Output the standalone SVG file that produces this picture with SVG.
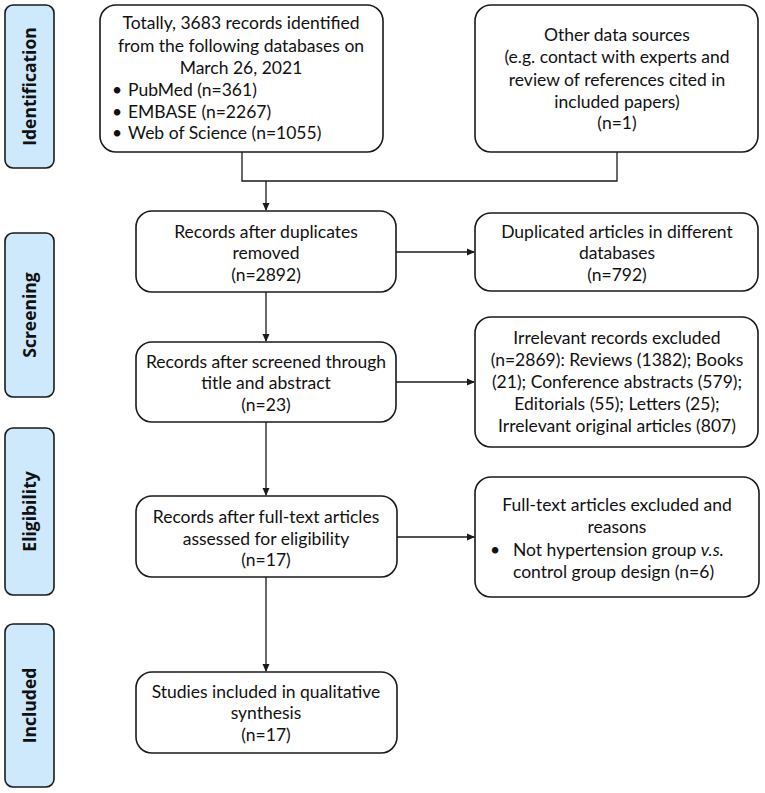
<svg xmlns="http://www.w3.org/2000/svg" width="765" height="793" viewBox="0 0 765 793">
<style>
.lab{fill:#cde9fb;stroke:#1a1a1a;stroke-width:1.6}
.box{fill:#fff;stroke:#1a1a1a;stroke-width:1.6}
.lt{font-family:"Open Sans","Liberation Sans",sans-serif;font-weight:bold;font-size:17.5px;fill:#111;text-anchor:middle}
.t{font-family:Lato,"Liberation Sans",sans-serif;font-size:17.5px;fill:#111;text-anchor:middle}
.tl{font-family:Lato,"Liberation Sans",sans-serif;font-size:17.5px;fill:#111}
.c{fill:none;stroke:#1a1a1a;stroke-width:1.3}
</style>
<defs>
<marker id="ah" markerWidth="8" markerHeight="8" refX="7" refY="4" orient="auto" markerUnits="userSpaceOnUse">
<path d="M0,0.5 L8,4 L0,7.5 z" fill="#1a1a1a"/>
</marker>
</defs>
<rect width="765" height="793" fill="#fff"/>
<g id="lab-identification"><rect class="lab" x="5" y="5" width="49" height="163" rx="8"/><text class="lt" transform="translate(35.5,86.5) rotate(-90)">Identification</text></g>
<g id="lab-screening"><rect class="lab" x="5" y="233" width="49" height="164" rx="8"/><text class="lt" transform="translate(35.5,315) rotate(-90)">Screening</text></g>
<g id="lab-eligibility"><rect class="lab" x="5" y="428" width="49" height="167" rx="8"/><text class="lt" transform="translate(35.5,511.5) rotate(-90)">Eligibility</text></g>
<g id="lab-included"><rect class="lab" x="5" y="624" width="49" height="163" rx="8"/><text class="lt" transform="translate(35.5,705.5) rotate(-90)">Included</text></g>
<g id="connectors">
<path class="c" d="M242,152 V181 H617 V152"/>
<path class="c" d="M266,181 V210" marker-end="url(#ah)"/>
<path class="c" d="M266,292 V341" marker-end="url(#ah)"/>
<path class="c" d="M266,422 V495" marker-end="url(#ah)"/>
<path class="c" d="M266,577 V671" marker-end="url(#ah)"/>
<path class="c" d="M396,252 H474" marker-end="url(#ah)"/>
<path class="c" d="M396,382 H474" marker-end="url(#ah)"/>
<path class="c" d="M397,537 H474" marker-end="url(#ah)"/>
</g>
<g id="n-databases"><rect class="box" x="100" y="5" width="283" height="147" rx="16"/>
<text class="t" x="241" y="29">Totally, 3683 records identified</text>
<text class="t" x="241" y="52">from the following databases on</text>
<text class="t" x="241" y="74">March 26, 2021</text>
<text class="tl" x="112" y="96">•</text><text class="tl" x="128" y="96">PubMed (n=361)</text>
<text class="tl" x="112" y="118">•</text><text class="tl" x="128" y="118">EMBASE (n=2267)</text>
<text class="tl" x="112" y="139">•</text><text class="tl" x="128" y="139">Web of Science (n=1055)</text>
</g>
<g id="n-other"><rect class="box" x="475" y="5" width="283" height="147" rx="16"/>
<text class="t" x="617" y="41">Other data sources</text>
<text class="t" x="617" y="63">(e.g. contact with experts and</text>
<text class="t" x="617" y="86">review of references cited in</text>
<text class="t" x="617" y="108">included papers)</text>
<text class="t" x="617" y="129">(n=1)</text>
</g>
<g id="n-dedup"><rect class="box" x="136" y="211" width="260" height="81" rx="16"/>
<text class="t" x="266" y="238">Records after duplicates</text>
<text class="t" x="266" y="259">removed</text>
<text class="t" x="266" y="281">(n=2892)</text>
</g>
<g id="n-duplicated"><rect class="box" x="475" y="213" width="283" height="78" rx="16"/>
<text class="t" x="617" y="238">Duplicated articles in different</text>
<text class="t" x="617" y="259">databases</text>
<text class="t" x="617" y="281">(n=792)</text>
</g>
<g id="n-screened"><rect class="box" x="136" y="342" width="260" height="80" rx="16"/>
<text class="t" x="266" y="368">Records after screened through</text>
<text class="t" x="266" y="389">title and abstract</text>
<text class="t" x="266" y="411">(n=23)</text>
</g>
<g id="n-irrelevant"><rect class="box" x="475" y="317" width="283" height="130" rx="16"/>
<text class="t" x="617" y="344">Irrelevant records excluded</text>
<text class="t" x="617" y="366">(n=2869): Reviews (1382); Books</text>
<text class="t" x="617" y="388">(21); Conference abstracts (579);</text>
<text class="t" x="617" y="410">Editorials (55); Letters (25);</text>
<text class="t" x="617" y="432">Irrelevant original articles (807)</text>
</g>
<g id="n-fulltext"><rect class="box" x="136" y="496" width="261" height="81" rx="16"/>
<text class="t" x="266" y="523">Records after full-text articles</text>
<text class="t" x="266" y="545">assessed for eligibility</text>
<text class="t" x="266" y="566">(n=17)</text>
</g>
<g id="n-ftexcluded"><rect class="box" x="475" y="477" width="284" height="120" rx="16"/>
<text class="t" x="617" y="511">Full-text articles excluded and</text>
<text class="t" x="617" y="533">reasons</text>
<text class="tl" x="490" y="556">•</text><text class="tl" x="513" y="556">Not hypertension group <tspan font-style="italic">v.s.</tspan></text>
<text class="tl" x="513" y="578">control group design (n=6)</text>
</g>
<g id="n-included"><rect class="box" x="136" y="672" width="261" height="81" rx="16"/>
<text class="t" x="266" y="698">Studies included in qualitative</text>
<text class="t" x="266" y="719">synthesis</text>
<text class="t" x="266" y="741">(n=17)</text>
</g>
</svg>
